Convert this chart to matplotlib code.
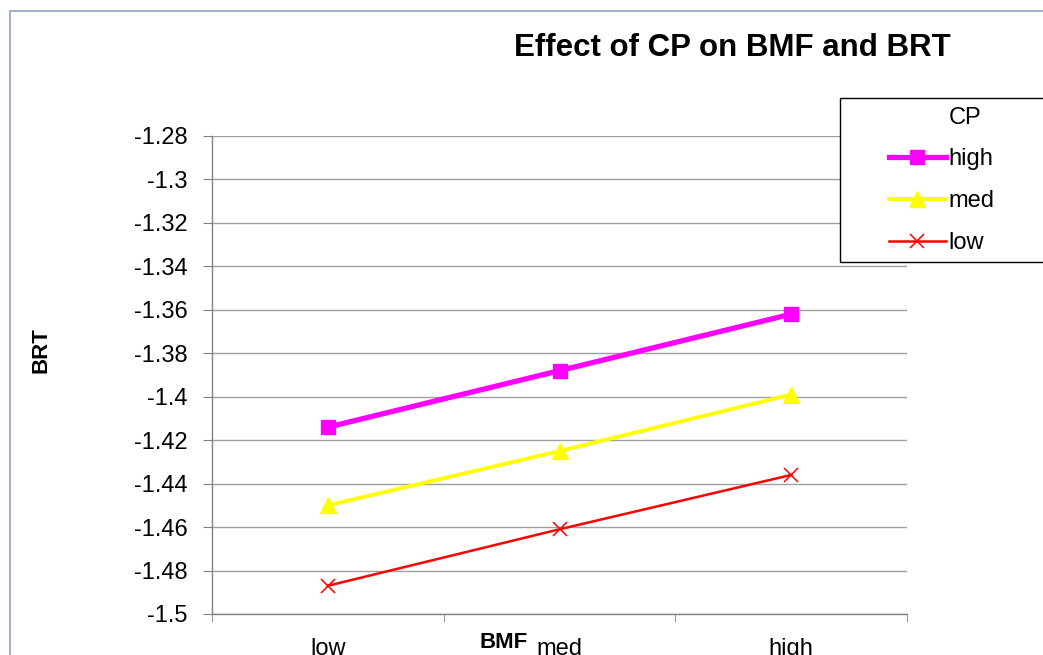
import numpy as np
import matplotlib
matplotlib.use("Agg")
import matplotlib.pyplot as plt
from matplotlib.patches import Rectangle

plt.rcParams['font.family'] = ['Liberation Sans', 'DejaVu Sans']

# data
bmf_levels = ['low', 'med', 'high']
cp_high = [-1.414, -1.388, -1.362]
cp_med = [-1.450, -1.425, -1.399]
cp_low = [-1.487, -1.461, -1.436]
yticks = np.round(np.arange(-1.50, -1.279, 0.02), 2)
ytick_labels = ['-1.5', '-1.48', '-1.46', '-1.44', '-1.42', '-1.4',
                '-1.38', '-1.36', '-1.34', '-1.32', '-1.3', '-1.28']

W, H = 1043, 655
fig = plt.figure(figsize=(W/100, H/100), dpi=100)
ax = fig.add_axes([212/W, 1-614/H, (907-212)/W, (614-136)/H])

x = np.arange(len(bmf_levels))
ax.plot(x, cp_high, color='#FF00FF', lw=3.8, marker='s', ms=9.5, label='high', zorder=5)
ax.plot(x, cp_med, color='#FFFF00', lw=2.8, marker='^', ms=11, label='med', zorder=4)
ax.plot(x, cp_low, color='#FF0000', lw=1.8, marker='x', ms=9.5, mew=1.1, label='low', zorder=3)

ax.set_xlim(-0.5, 2.5)
ax.set_ylim(-1.5, -1.28)
ax.set_yticks(yticks)
ax.set_yticklabels(ytick_labels)
ax.yaxis.grid(True, color='#A0A0A0', lw=1.0)
ax.set_axisbelow(True)

ax.set_xticks(x)
ax.set_xticklabels(bmf_levels)
ax.set_xticks([-0.5, 0.5, 1.5, 2.5], minor=True)
ax.tick_params(axis='x', which='major', length=0, pad=17, labelsize=17)
ax.tick_params(axis='x', which='minor', length=6, color='#808080', direction='out')
ax.tick_params(axis='y', length=6.5, color='#808080', pad=11, labelsize=17)

for s in ['top', 'right']:
    ax.spines[s].set_visible(False)
for s in ['left', 'bottom']:
    ax.spines[s].set_color('#808080')
    ax.spines[s].set_linewidth(1.0)

fig.text(732/W, 1-48/H, 'Effect of CP on BMF and BRT', ha='center', va='center',
         fontsize=22.5, fontweight='bold')
fig.text(41/W, 1-350/H, 'BRT', rotation=90, ha='center', va='center',
         fontsize=16, fontweight='bold')
fig.text(504/W, 1-643/H, 'BMF', ha='center', va='center',
         fontsize=16, fontweight='bold')

# outer chart border
fig.patches.append(Rectangle((10/W, -0.5), 2, 1.5-11/H, transform=fig.transFigure,
                             fill=False, edgecolor='#8EA0C0', lw=1.2))

# legend box
fig.patches.append(Rectangle((840/W, 1-262/H), 1, (262-98)/H, transform=fig.transFigure,
                             facecolor='white', edgecolor='black', lw=1.0, zorder=10))
fig.text(965/W, 1-118/H, 'CP', ha='center', va='center', fontsize=17, zorder=11)
handles, labels = ax.get_legend_handles_labels()
leg = fig.legend(handles, labels, loc='upper left', bbox_to_anchor=(889/W, 1-148/H),
                 frameon=False, fontsize=17,
                 handlelength=2.4, handletextpad=0.1, labelspacing=0.85,
                 borderpad=0, borderaxespad=0)
leg.set_zorder(12)

fig.savefig('out.png', dpi=100)
